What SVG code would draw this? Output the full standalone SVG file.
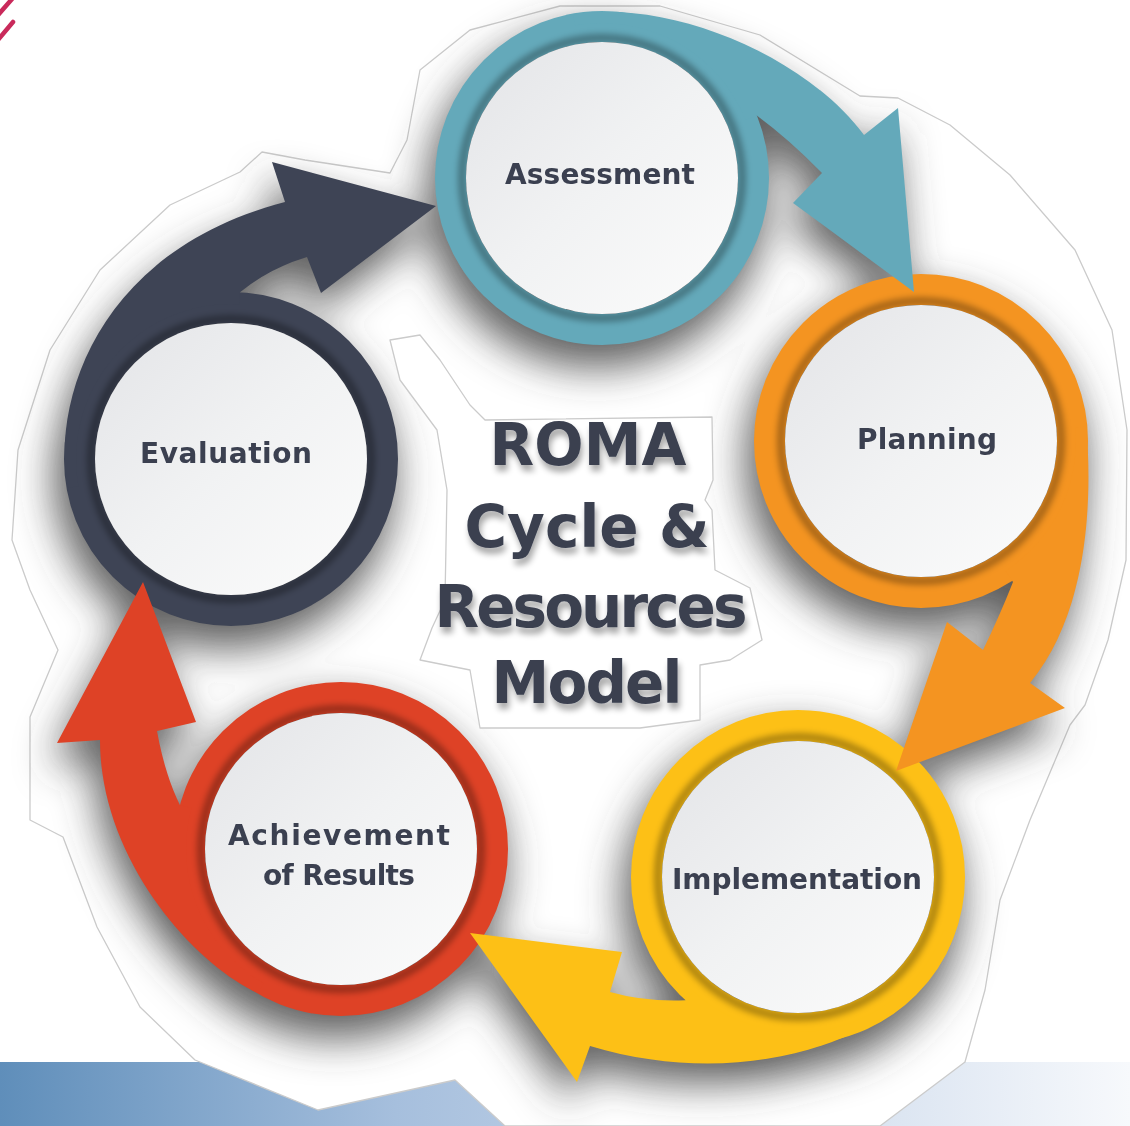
<svg xmlns="http://www.w3.org/2000/svg" width="1130" height="1126" viewBox="0 0 1130 1126">
<style>
.ring{fill:none;stroke-width:31}
.inner{fill:none;stroke:#000;stroke-opacity:0.32;stroke-width:8;filter:url(#soft)}
.disc{fill:url(#disc)}
.label{font-family:"DejaVu Sans","Liberation Sans",Arial,sans-serif;font-weight:bold;font-size:28px;fill:#3b4050;text-anchor:middle}
.title{font-family:"DejaVu Sans","Liberation Sans",Arial,sans-serif;font-weight:bold;font-size:58px;fill:#3b4050;text-anchor:middle}
.outline{fill:#fff;stroke:#cbcbcb;stroke-width:1.3;stroke-linejoin:round}
</style>
<defs>
<linearGradient id="disc" x1="0" y1="0" x2="1" y2="1">
<stop offset="0" stop-color="#e3e4e7"/>
<stop offset="0.5" stop-color="#f1f2f3"/>
<stop offset="1" stop-color="#fcfcfc"/>
</linearGradient>
<linearGradient id="band" x1="0" y1="0" x2="1" y2="0">
<stop offset="0" stop-color="#5f8eba"/>
<stop offset="0.35" stop-color="#a6bfdd"/>
<stop offset="0.6" stop-color="#c3d3e8"/>
<stop offset="1" stop-color="#f7f9fc"/>
</linearGradient>
<filter id="soft" x="-10%" y="-10%" width="120%" height="120%">
<feGaussianBlur stdDeviation="3"/>
</filter>
<filter id="blur" x="-20%" y="-20%" width="140%" height="140%">
<feGaussianBlur stdDeviation="20"/>
</filter>
<filter id="tsh" x="-10%" y="-20%" width="120%" height="160%">
<feGaussianBlur in="SourceAlpha" stdDeviation="3"/>
<feOffset dx="2" dy="6"/>
<feComponentTransfer><feFuncA type="linear" slope="0.35"/></feComponentTransfer>
<feMerge><feMergeNode/><feMergeNode in="SourceGraphic"/></feMerge>
</filter>
</defs>

<rect width="1130" height="1126" fill="#fff"/>
<g id="corner-marks" stroke="#c92a5b" stroke-width="4.5" stroke-linecap="round">
<line x1="-2" y1="15" x2="12" y2="-1"/>
<line x1="-2" y1="40" x2="13" y2="22"/>
</g>
<rect id="bottom-band" x="0" y="1062" width="1130" height="64" fill="url(#band)"/>

<path id="sticker" class="outline" d="M407 140 L420 70 L470 30 L560 6 L660 6 L760 35 L860 96 L898 98 L950 125 L1010 175 L1075 250 L1112 330 L1127 430 L1126 560 L1108 640 L1085 705 L1070 725 L1030 820 L1000 900 L985 990 L965 1062 L880 1126 L505 1126 L455 1080 L318 1110 L195 1060 L140 1007 L97 927 L63 837 L30 820 L30 717 L58 650 L30 590 L12 540 L18 450 L50 350 L100 270 L170 205 L240 172 L262 152 L305 160 L390 173 Z"/>

<g id="shadows" fill="#444" fill-opacity="0.85" filter="url(#blur)">
<path transform="translate(-6,20)" d="M573 14.5 C662 -1 800 50 864 135 L898 108 L914 292 L793 203 L822 173 Q790 140 756.8 115.4 L745.7 119.9 A155 155 0 0 0 575.1 25.4 Z"/>
<path transform="translate(-6,20)" d="M1086.4 426.5 C1092 496 1090 610 1030 683 L1065 708 L896 771 L947 622 L983 650 Q1000 615 1013 582 L1005.6 570.9 A155 155 0 0 0 1075.4 427.5 Z"/>
<path transform="translate(-6,20)" d="M954 934 C930 1020 770 1100 590 1046 L577 1082 L470 933 L622 952 L610 992 Q645 1002 685.4 1000.3 L693.5 991.5 A155 155 0 0 0 943.7 930 Z"/>
<path transform="translate(-6,20)" d="M258 993 C195 965 100 860 100 740 L57 743 L143 582 L196 722 L157 731 Q165 775 179.9 804.9 L191.5 808.1 A155 155 0 0 0 263.5 983.2 Z"/>
<path transform="translate(-6,20)" d="M67.5 488 C51.5 398 100 250 285 202 L272 162 L436 206 L321 293 L307 257 Q270 268 240 292.2 L239.4 304.2 A155 155 0 0 0 78.4 486 Z"/>
<circle cx="596" cy="198" r="170"/>
<circle cx="915" cy="461" r="170"/>
<circle cx="792" cy="897" r="170"/>
<circle cx="335" cy="869" r="170"/>
<circle cx="225" cy="479" r="170"/>
</g>

<path id="title-backing" class="outline" d="M390 340 L420 335 L440 360 L470 405 L485 420 L712 417 L713 480 L705 500 L712 510 L715 570 L750 588 L762 640 L730 660 L700 665 L700 720 L640 728 L480 728 L470 670 L420 660 L432 628 L445 600 L447 490 L437 430 L400 380 Z"/>

<g id="node-assessment">
<circle class="ring" cx="602" cy="178" r="151.5" stroke="#64a9ba"/>
<circle class="inner" cx="602" cy="178" r="140"/>
<circle class="disc" cx="602" cy="178" r="136"/>
<text class="label" x="600" y="184" textLength="190" lengthAdjust="spacing">Assessment</text>
</g>
<g id="node-planning">
<circle class="ring" cx="921" cy="441" r="151.5" stroke="#f49421"/>
<circle class="inner" cx="921" cy="441" r="140"/>
<circle class="disc" cx="921" cy="441" r="136"/>
<text class="label" x="927" y="449" textLength="140" lengthAdjust="spacing">Planning</text>
</g>
<g id="node-implementation">
<circle class="ring" cx="798" cy="877" r="151.5" stroke="#fdc016"/>
<circle class="inner" cx="798" cy="877" r="140"/>
<circle class="disc" cx="798" cy="877" r="136"/>
<text class="label" x="797" y="889" textLength="250" lengthAdjust="spacing">Implementation</text>
</g>
<g id="node-achievement">
<circle class="ring" cx="341" cy="849" r="151.5" stroke="#de4226"/>
<circle class="inner" cx="341" cy="849" r="140"/>
<circle class="disc" cx="341" cy="849" r="136"/>
<text class="label" x="339" y="845" textLength="222" lengthAdjust="spacing">Achievement</text>
<text class="label" x="339" y="885" textLength="152" lengthAdjust="spacing">of Results</text>
</g>
<g id="node-evaluation">
<circle class="ring" cx="231" cy="459" r="151.5" stroke="#3e4455"/>
<circle class="inner" cx="231" cy="459" r="140"/>
<circle class="disc" cx="231" cy="459" r="136"/>
<text class="label" x="226" y="463" textLength="172" lengthAdjust="spacing">Evaluation</text>
</g>

<g id="connectors">
<path id="arrow-assessment-planning" fill="#64a9ba" d="M573 14.5 C662 -1 800 50 864 135 L898 108 L914 292 L793 203 L822 173 Q790 140 756.8 115.4 L745.7 119.9 A155 155 0 0 0 575.1 25.4 Z"/>
<path id="arrow-planning-implementation" fill="#f49421" d="M1086.4 426.5 C1092 496 1090 610 1030 683 L1065 708 L896 771 L947 622 L983 650 Q1000 615 1013 582 L1005.6 570.9 A155 155 0 0 0 1075.4 427.5 Z"/>
<path id="arrow-implementation-achievement" fill="#fdc016" d="M954 934 C930 1020 770 1100 590 1046 L577 1082 L470 933 L622 952 L610 992 Q645 1002 685.4 1000.3 L693.5 991.5 A155 155 0 0 0 943.7 930 Z"/>
<path id="arrow-achievement-evaluation" fill="#de4226" d="M258 993 C195 965 100 860 100 740 L57 743 L143 582 L196 722 L157 731 Q165 775 179.9 804.9 L191.5 808.1 A155 155 0 0 0 263.5 983.2 Z"/>
<path id="arrow-evaluation-assessment" fill="#3e4455" d="M67.5 488 C51.5 398 100 250 285 202 L272 162 L436 206 L321 293 L307 257 Q270 268 240 292.2 L239.4 304.2 A155 155 0 0 0 78.4 486 Z"/>
</g>

<g id="title" filter="url(#tsh)">
<text class="title" x="588" y="465" textLength="197" lengthAdjust="spacing">ROMA</text>
<text class="title" x="587" y="547" textLength="245" lengthAdjust="spacing">Cycle &amp;</text>
<text class="title" x="591" y="627" textLength="313" lengthAdjust="spacing">Resources</text>
<text class="title" x="587" y="703" textLength="191" lengthAdjust="spacing">Model</text>
</g>
</svg>
